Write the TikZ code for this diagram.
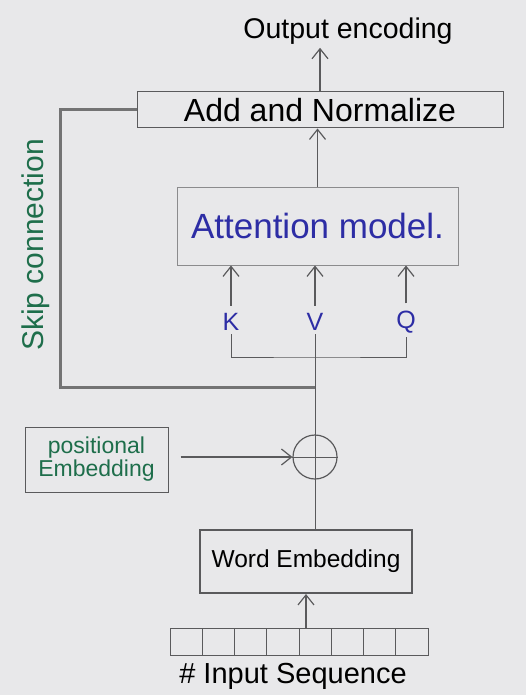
\documentclass[tikz,border=0pt]{standalone}
\usepackage{fontspec}
\setmainfont{Liberation Sans}
\usetikzlibrary{arrows.meta, positioning}
\definecolor{paper}{RGB}{232,232,234}
\definecolor{pencil}{RGB}{90,90,92}
\definecolor{inkblue}{RGB}{45,45,165}
\definecolor{inkgreen}{RGB}{30,110,75}

\begin{document}
\begin{tikzpicture}[x=1pt, y=-1pt,
    box/.style={rectangle, draw=pencil, line width=1pt, inner sep=0pt, align=center},
    cell/.style={rectangle, draw=pencil, line width=1pt, minimum width=32.25pt, minimum height=27pt, inner sep=0pt},
    arrow/.style={-{Straight Barb[length=10pt, width=16pt, line width=1.2pt]}, draw=pencil, line width=1.2pt},
    link/.style={draw=pencil, line width=1pt},
    skip/.style={draw=pencil!85, line width=3pt},
    hand/.style={font=\fontsize{#1}{#1}\selectfont}
]
% paper
\fill[paper] (0,0) rectangle (526,695);

% nodes
\node[hand=28.5] (out) at (348,31) {Output encoding};
\node[box, hand=32, minimum width=366pt, minimum height=36pt] (addnorm) at (320,110) {Add and Normalize};
\node[box, hand=35, text=inkblue, draw=pencil!70, minimum width=281pt, minimum height=78pt] (attn) at (317.5,226) {Attention model.};
\node[hand=25, text=inkblue] (kkey) at (231,322) {K};
\node[hand=25, text=inkblue] (vval) at (315,322) {V};
\node[hand=25, text=inkblue] (qval) at (406,322) {Q};
\coordinate (junc) at (315,357);
\coordinate (skipjoin) at (315,387);
\coordinate (skipcorner) at (60,110);
\node[hand=30, text=inkgreen, rotate=90] (skiplabel) at (36,245) {Skip connection};
\node[circle, draw=pencil, line width=1.2pt, minimum size=44pt, inner sep=0pt] (plus) at (315,457) {};
\node[box, hand=23, text=inkgreen, minimum width=143pt, minimum height=65pt] (posemb) at (96.5,459.5) {positional\\Embedding};
\node[box, hand=24.5, line width=2pt, minimum width=212pt, minimum height=63pt] (wordemb) at (306,561.5) {Word Embedding};
\foreach \i in {1,...,8}
    \node[cell] (cell\i) at ({170+32.25*(\i-0.5)},641.5) {};
\node[hand=29] (seq) at (293,676) {\# Input Sequence};

% connectors
\draw[arrow] (addnorm) -- (addnorm |- out.south);
\draw[arrow] (attn) -- (attn |- addnorm.south);
\foreach \n in {kkey, vval, qval}
    \draw[arrow, shorten <=4pt] (\n) -- (\n |- attn.south);
\draw[link] (kkey.south) |- (junc) -| (qval.south);
\draw[link] (vval) -- (junc);
\draw[link] (junc) -- (plus);
\draw[skip] (addnorm.west) -- (skipcorner) |- (skipjoin);
\draw[link] (plus.north) -- (plus.south) (plus.west) -- (plus.east);
\draw[arrow, shorten <=12pt] (posemb.east |- plus) -- (plus);
\draw[link] (plus) -- (plus |- wordemb.north);
\draw[arrow] (wordemb |- cell5.north) -- (wordemb.south);

\end{tikzpicture}
\end{document}
